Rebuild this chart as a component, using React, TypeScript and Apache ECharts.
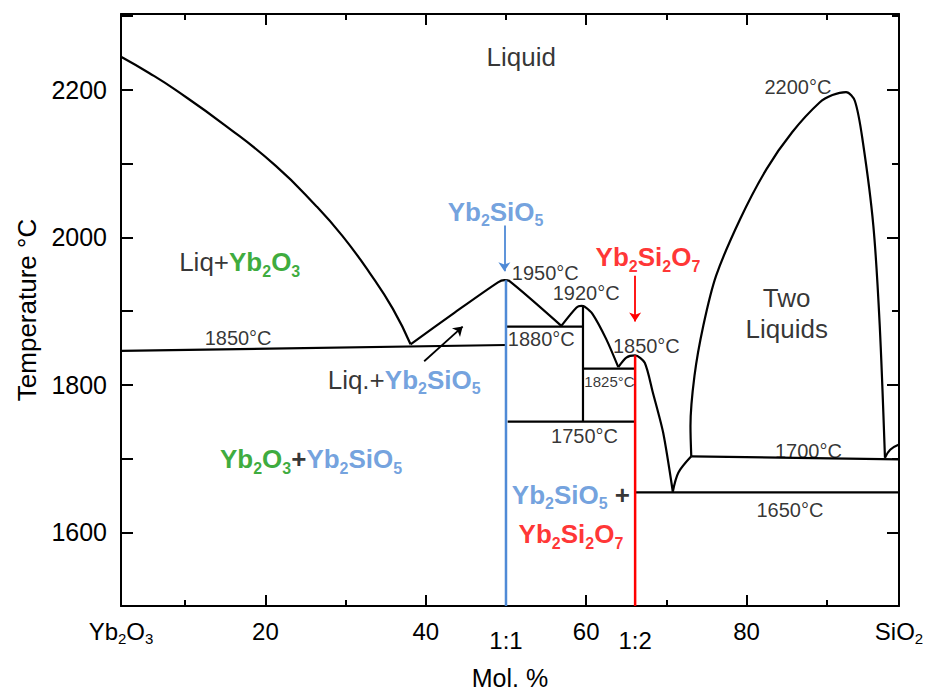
import React, { useEffect, useRef } from 'react';
import * as echarts from 'echarts';

// ---- axis ranges & ticks ----
const X_MIN = 2;
const X_MAX = 99;
const Y_MIN = 1500;
const Y_MAX = 2303;
const xMajorTicks = [20, 40, 60, 80];
const xMinorTicks = [10, 30, 50, 70, 90];
const xLabelValues = [2, 20, 40, 50, 60, 66.1, 80, 99];
const xLabelTexts = ['{n|Yb}{s|2}{n|O}{s|3}', '20', '40', '{low|1:1}', '60', '{low|1:2}', '80', '{n|SiO}{s|2}'];
const yLabelValues = [1600, 1800, 2000, 2200];
const yMajorRight = [1600, 1800, 2000, 2200];
const yMinorRight = [1700, 1900, 2100, 2300];

// ---- phase boundaries (mol% SiO2, °C) ----
const liquidusLeft = [[2, 2245], [5.5, 2223], [8.8, 2200], [15.1, 2151], [21.3, 2097], [26.3, 2043], [29.6, 2002], [33.0, 1952], [35.9, 1903], [38.1, 1855]];
const liquidusMono = [[38.1, 1855], [43.6, 1898], [49.0, 1939], [49.8, 1942], [50.4, 1941], [56.9, 1880]];
const liquidus1920 = [[56.9, 1880], [58.8, 1905], [59.4, 1907], [59.8, 1906], [60.8, 1896], [62.5, 1862], [64.0, 1824]];
const liquidusDi = [[64.0, 1824], [65.0, 1837], [66.1, 1840], [67.3, 1830], [68.3, 1790], [69.6, 1735], [70.8, 1655]];
const liquidusRise = [[70.8, 1655], [71.5, 1681], [73.1, 1703]];
const miscibilityDome = [[73.1, 1703], [73.0, 1744], [73.5, 1812], [74.6, 1880], [76.2, 1948], [79.2, 2025], [82.5, 2093], [85.7, 2143], [89.1, 2183], [90.7, 2193], [92.4, 2197], [93.5, 2185], [94.5, 2129], [95.8, 2016], [96.6, 1880], [97.25, 1701]];
const liquidusSilica = [[97.25, 1701], [97.9, 1712], [99, 1719]];
const eutectic1850 = [[2, 1846], [50, 1854]];
const eutectic1880 = [[50, 1879], [59.6, 1879]];
const phase1920 = [[59.6, 1907], [59.6, 1750]];
const eutectic1825 = [[59.6, 1822], [66.1, 1822]];
const line1750 = [[50.2, 1750], [66.1, 1750]];
const monotectic1700 = [[73.1, 1703], [99, 1699]];
const eutectic1650 = [[66.1, 1654], [99, 1654]];
const monosilicate = [[50, 1942], [50, 1500]];
const disilicate = [[66.1, 1840], [66.1, 1500]];

// ---- arrows ----
const arrowBlue = [[49.8, 2016], [49.8, 1954]];
const arrowRed = [[66.1, 1948], [66.1, 1886]];
const arrowBlack = [[39.8, 1832], [44.6, 1879]];

// ---- annotations ----
const annotationTexts = [
  '{n|Liquid}',
  '{t|2200°C}',
  '{b|Yb}{bs|2}{b|SiO}{bs|5}',
  '{r|Yb}{rs|2}{r|Si}{rs|2}{r|O}{rs|7}',
  '{n|Liq+}{g|Yb}{gs|2}{g|O}{gs|3}',
  '{t|1950°C}',
  '{t|1920°C}',
  '{t|1880°C}',
  '{t|1850°C}',
  '{ts|1825°C}',
  '{t|1750°C}',
  '{t|1850°C}',
  '{n2|Two}\n{n2|Liquids}',
  '{n|Liq.+}{b|Yb}{bs|2}{b|SiO}{bs|5}',
  '{g|Yb}{gs|2}{g|O}{gs|3}{k|+}{b|Yb}{bs|2}{b|SiO}{bs|5}',
  '{b|Yb}{bs|2}{b|SiO}{bs|5}{k| +}',
  '{r|Yb}{rs|2}{r|Si}{rs|2}{r|O}{rs|7}',
  '{t|1700°C}',
  '{t|1650°C}',
];
const annotationAt = [
  [51.9, 2244], [86.4, 2204], [48.7, 2035], [67.7, 1973], [16.8, 1966],
  [54.9, 1952], [60.0, 1925], [54.4, 1862], [67.5, 1852], [62.9, 1805],
  [59.8, 1730], [16.6, 1864], [85.0, 1897], [37.3, 1807], [25.7, 1699],
  [58.1, 1651], [58.1, 1597], [87.7, 1710], [85.4, 1630],
];

const FONT = '"Liberation Sans", Arial, Helvetica, sans-serif';
const BLUE = '#4F8AD6';
const RED = '#FF0000';
const GREEN = '#0A960A';

export default function App() {
  const ref = useRef<HTMLDivElement>(null);
  useEffect(() => {
    if (!ref.current) return;
    const chart = echarts.init(ref.current, undefined, { renderer: 'svg' });

    const lineSeries = (data: number[][], color = '#000', smooth: number | boolean = false, width = 2.2) => ({
      type: 'line',
      data,
      showSymbol: false,
      symbol: 'none',
      smooth,
      silent: true,
      lineStyle: { color, width },
      z: 3,
    });

    const plain = { textBorderWidth: 0, textShadowBlur: 0, fontFamily: FONT };
    const subStyle = (color: string, size: number) => ({
      ...plain, fontSize: size, fontWeight: 'bold', color, verticalAlign: 'bottom', height: 8, lineHeight: 8,
    });
    const mainBold = (color: string) => ({ ...plain, fontSize: 26, fontWeight: 'bold', color, lineHeight: 26, verticalAlign: 'middle' });

    const rich = {
      n: { ...plain, fontSize: 26, color: '#000', lineHeight: 26, verticalAlign: 'middle' },
      n2: { ...plain, fontSize: 26, color: '#000', lineHeight: 31, align: 'center' },
      t: { ...plain, fontSize: 20, color: '#000' },
      ts: { ...plain, fontSize: 15, color: '#000' },
      k: { ...plain, fontSize: 26, fontWeight: 'bold', color: '#000', lineHeight: 26, verticalAlign: 'middle' },
      b: mainBold(BLUE),
      bs: subStyle(BLUE, 16),
      r: mainBold(RED),
      rs: subStyle(RED, 16),
      g: mainBold(GREEN),
      gs: subStyle(GREEN, 16),
    };

    const arrowLine = (pts: number[][], color: string) => ({
      coords: pts,
      lineStyle: { color, width: 1.8, type: 'solid', opacity: 1 },
    });

    const option: any = {
      animation: false,
      backgroundColor: '#fff',
      textStyle: { fontFamily: FONT },
      grid: { left: 121, right: 35, top: 14, bottom: 86, containLabel: false, outerBoundsMode: 'none' },
      xAxis: [
        {
          type: 'value', min: X_MIN, max: X_MAX, position: 'bottom',
          name: 'Mol. %', nameLocation: 'middle', nameGap: 59,
          nameTextStyle: { fontSize: 25, color: '#000', fontFamily: FONT, lineHeight: 25 },
          axisLine: { show: true, lineStyle: { color: '#000', width: 2 } },
          axisTick: { show: true, inside: true, length: 11, customValues: xMajorTicks, lineStyle: { color: '#000', width: 2 } },
          axisLabel: {
            show: true, customValues: xLabelValues, margin: 13, color: '#000', fontSize: 24, fontFamily: FONT,
            showMinLabel: true, showMaxLabel: true, hideOverlap: false,
            formatter: (v: number) => {
              const i = xLabelValues.findIndex((u) => Math.abs(u - v) < 0.01);
              return i >= 0 ? xLabelTexts[i] : '';
            },
            rich: {
              n: { fontSize: 24, color: '#000', fontFamily: FONT, lineHeight: 24, verticalAlign: 'middle' },
              s: { fontSize: 15, color: '#000', fontFamily: FONT, verticalAlign: 'bottom', height: 9, lineHeight: 9 },
              low: { fontSize: 24, color: '#000', fontFamily: FONT, padding: [9, 0, 0, 0] },
            },
          },
          splitLine: { show: false },
        },
        {
          type: 'value', min: X_MIN, max: X_MAX, position: 'bottom',
          axisLine: { show: false },
          axisTick: { show: true, inside: true, length: 6, customValues: xMinorTicks, lineStyle: { color: '#000', width: 2 } },
          axisLabel: { show: false }, splitLine: { show: false },
        },
        {
          type: 'value', min: X_MIN, max: X_MAX, position: 'top',
          axisLine: { show: true, lineStyle: { color: '#000', width: 2 } },
          axisTick: { show: true, inside: true, length: 11, customValues: xMajorTicks, lineStyle: { color: '#000', width: 2 } },
          axisLabel: { show: false }, splitLine: { show: false },
        },
        {
          type: 'value', min: X_MIN, max: X_MAX, position: 'top',
          axisLine: { show: false },
          axisTick: { show: true, inside: true, length: 6, customValues: xMinorTicks, lineStyle: { color: '#000', width: 2 } },
          axisLabel: { show: false }, splitLine: { show: false },
        },
      ],
      yAxis: [
        {
          type: 'value', min: Y_MIN, max: Y_MAX, interval: 100, position: 'left',
          name: 'Temperature °C', nameLocation: 'middle', nameGap: 68,
          nameTextStyle: { fontSize: 26, color: '#000', fontFamily: FONT },
          axisLine: { show: true, lineStyle: { color: '#000', width: 2 } },
          axisTick: { show: true, inside: true, length: 12, lineStyle: { color: '#000', width: 2 } },
          axisLabel: {
            show: true, customValues: yLabelValues, margin: 14, color: '#000', fontSize: 25, fontFamily: FONT,
            formatter: (v: number) => String(v),
          },
          splitLine: { show: false },
        },
        {
          type: 'value', min: Y_MIN, max: Y_MAX, position: 'right',
          axisLine: { show: true, lineStyle: { color: '#000', width: 2 } },
          axisTick: { show: true, inside: true, length: 12, customValues: yMajorRight, lineStyle: { color: '#000', width: 2 } },
          axisLabel: { show: false }, splitLine: { show: false },
        },
        {
          type: 'value', min: Y_MIN, max: Y_MAX, position: 'right',
          axisLine: { show: false },
          axisTick: { show: true, inside: true, length: 7, customValues: yMinorRight, lineStyle: { color: '#000', width: 2 } },
          axisLabel: { show: false }, splitLine: { show: false },
        },
      ],
      series: [
        lineSeries(liquidusLeft, '#000', 0.5),
        lineSeries(liquidusMono, '#000', 0.25),
        lineSeries(liquidus1920, '#000', 0.25),
        lineSeries(liquidusDi, '#000', 0.25),
        lineSeries(liquidusRise, '#000', 0.3),
        lineSeries(miscibilityDome, '#000', 0.3),
        lineSeries(liquidusSilica, '#000', 0.4),
        lineSeries(eutectic1850),
        lineSeries(eutectic1880),
        lineSeries(phase1920),
        lineSeries(eutectic1825),
        lineSeries(line1750),
        lineSeries(monotectic1700),
        lineSeries(eutectic1650),
        lineSeries(monosilicate, BLUE, false, 2.5),
        lineSeries(disilicate, RED, false, 2.5),
        {
          type: 'lines',
          coordinateSystem: 'cartesian2d',
          silent: true,
          symbol: ['none', 'arrow'],
          symbolSize: 9,
          data: [arrowLine(arrowBlue, BLUE), arrowLine(arrowRed, RED), arrowLine(arrowBlack, '#000')],
          z: 4,
        },
        {
          type: 'scatter',
          silent: true,
          symbolSize: 1,
          itemStyle: { color: 'rgba(0,0,0,0)' },
          label: { show: true, position: 'inside', rich, fontFamily: FONT, color: '#000', textBorderWidth: 0 },
          data: annotationAt.map((p, i) => ({
            value: p,
            label: { formatter: annotationTexts[i] },
          })),
          z: 5,
        },
      ],
    };
    chart.setOption(option);
    return () => chart.dispose();
  }, []);

  return <div ref={ref} style={{ position: 'absolute', left: 0, top: 0, width: 934, height: 692 }} />;
}
